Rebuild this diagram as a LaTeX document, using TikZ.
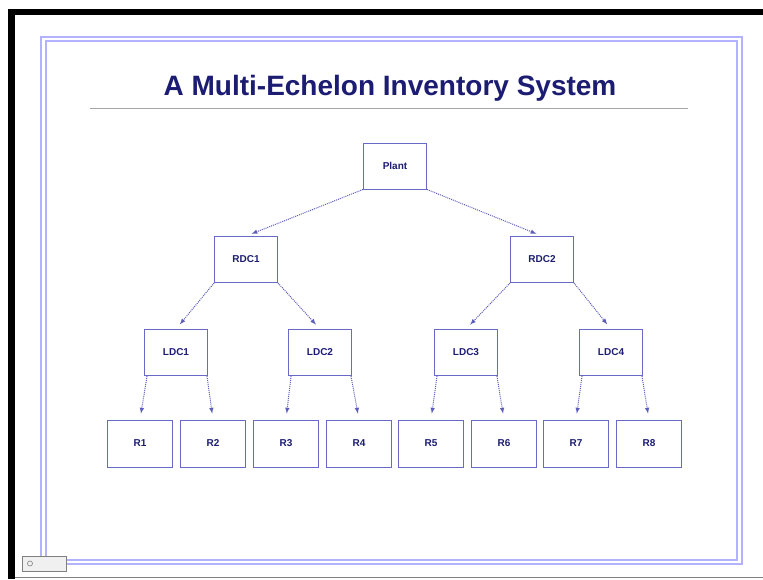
\documentclass[tikz,border=0pt]{standalone}
\usepackage{fontspec}
\setmainfont{Liberation Sans}
\tikzset{>=latex}
\definecolor{navy}{RGB}{28,28,115}
\definecolor{boxblue}{RGB}{105,105,200}
\definecolor{framelav}{RGB}{178,178,255}
\tikzset{
  unit/.style={draw=boxblue,line width=0.9pt,minimum width=63pt,minimum height=46pt,
    font=\bfseries\fontsize{10}{11}\selectfont,text=navy},
  retail/.style={unit,minimum width=65pt,minimum height=47pt},
  flow/.style={->,densely dotted,draw=boxblue!85!navy,line width=1pt,shorten >=6pt}
}

\begin{document}
\begin{tikzpicture}[x=1pt,y=-1pt]
  % page and screen edge
  \useasboundingbox (0,0) rectangle (763,579);
  \fill[white] (0,0) rectangle (763,579);
  \fill[black] (8,9) rectangle (15,579);
  \fill[black] (8,9) rectangle (763,15);
  \draw[gray,line width=1.5pt] (15,577.5) -- (763,577.5);
  % slide frame
  \draw[framelav,line width=2pt] (41,37) rectangle (742,564);
  \draw[framelav,line width=1.5pt] (46,41) rectangle (737,560);
  \draw[gray,fill=gray!12,line width=0.6pt] (22,556) rectangle (66,571);
  \draw[gray,line width=0.6pt] (30,563.5) circle (2.5pt);
  % title
  \node[text=navy,font=\bfseries\fontsize{28}{32}\selectfont] (title) at (390,88)
    {A Multi-Echelon Inventory System};
  \draw[gray!70,line width=1pt] (90,108) -- (688,108);
  % echelons
  \node[unit] (plant) at (395,166) {Plant};
  \node[unit] (rdc1) at (246,259.5) {RDC1};
  \node[unit] (rdc2) at (542,259.5) {RDC2};
  \foreach \i/\x in {1/176,2/320,3/466,4/611}
    \node[unit] (ldc\i) at (\x,352.5) {LDC\i};
  \foreach \i/\x in {1/140,2/213,3/286,4/359,5/431,6/504,7/576,8/649}
    \node[retail] (r\i) at (\x,443.5) {R\i};
  % shipments
  \draw[flow] (plant.south west) -- (rdc1.north);
  \draw[flow] (plant.south east) -- (rdc2.north);
  \draw[flow] (rdc1.south west) -- (ldc1.north);
  \draw[flow] (rdc1.south east) -- (ldc2.north);
  \draw[flow] (rdc2.south west) -- (ldc3.north);
  \draw[flow] (rdc2.south east) -- (ldc4.north);
  \foreach \i in {1,...,4} {
    \pgfmathtruncatemacro\left{2*\i-1}
    \pgfmathtruncatemacro\right{2*\i}
    \draw[flow] ([xshift=3pt]ldc\i.south west) -- (r\left.north);
    \draw[flow] ([xshift=-1pt]ldc\i.south east) -- (r\right.north);
  }
\end{tikzpicture}
\end{document}
